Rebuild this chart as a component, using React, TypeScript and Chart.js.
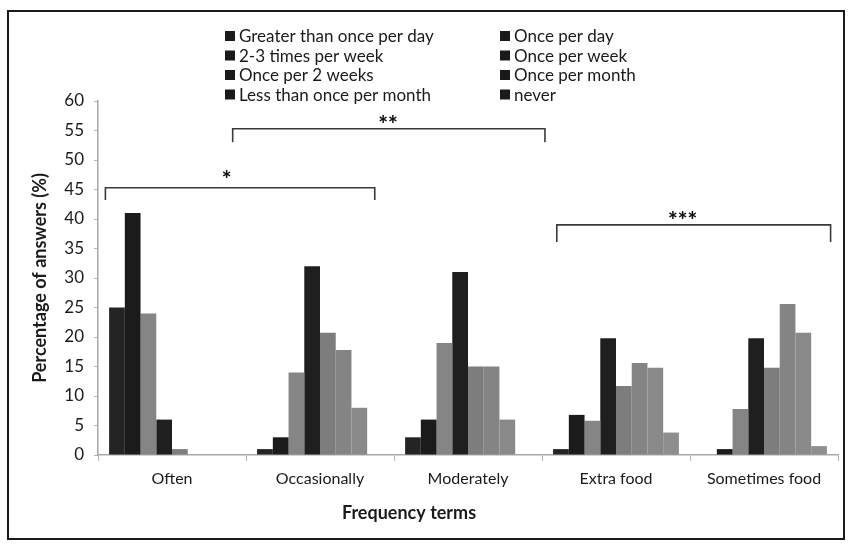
import React, { useEffect, useRef } from "react";
import { Chart, registerables } from "chart.js";

Chart.register(...registerables);

const categories = ["Often", "Occasionally", "Moderately", "Extra food", "Sometimes food"];

const seriesNames = [
  "Greater than once per day",
  "Once per day",
  "2-3 times per week",
  "Once per week",
  "Once per 2 weeks",
  "Once per month",
  "Less than once per month",
  "never",
];

const greaterThanOncePerDay = [25, 1, 3, 1, 0];
const oncePerDay = [41, 3, 6, 6.8, 1];
const twoThreeTimesPerWeek = [24, 14, 19, 5.8, 7.8];
const oncePerWeek = [6, 32, 31, 19.8, 19.8];
const oncePer2Weeks = [1, 20.7, 15, 11.7, 14.8];
const oncePerMonth = [0, 17.8, 15, 15.6, 25.6];
const lessThanOncePerMonth = [0, 8, 6, 14.8, 20.7];
const never = [0, 0, 0, 3.8, 1.5];

const seriesValues = [
  greaterThanOncePerDay,
  oncePerDay,
  twoThreeTimesPerWeek,
  oncePerWeek,
  oncePer2Weeks,
  oncePerMonth,
  lessThanOncePerMonth,
  never,
];

const seriesColors = ["#242424", "#1b1b1b", "#858585", "#1f1f1f", "#7d7d7d", "#848484", "#898989", "#8e8e8e"];

const yTicks = [0, 5, 10, 15, 20, 25, 30, 35, 40, 45, 50, 55, 60];

// significance brackets, in category units (0 = centre of first category) and data values
const bracketLabels = ["*", "**", "***"];
const bracketFrom = [-0.45, 0.41, 2.6];
const bracketTo = [1.37, 2.52, 4.45];
const bracketLevel = [45.3, 55.3, 39];
const bracketDrop = [43.2, 53, 36.1];
const bracketLabelAt = [0.37, 1.46, 3.45];
const bracketLabelRaise = [4, 0, 0];

const xTitle = "Frequency terms";
const yTitle = "Percentage of answers (%)";

const FONT = "Lato, 'Open Sans', sans-serif";

const legendPlugin = {
  id: "twoColumnLegend",
  afterDraw(chart: any) {
    const ctx = chart.ctx;
    ctx.save();
    ctx.font = `17px ${FONT}`;
    ctx.textBaseline = "middle";
    ctx.textAlign = "left";
    const colX = [225, 500];
    seriesNames.forEach((name, i) => {
      const col = i % 2;
      const row = Math.floor(i / 2);
      const cy = 36 + row * 19.5;
      ctx.fillStyle = "#1a1a1a";
      ctx.fillRect(colX[col], cy - 5, 10, 10);
      ctx.fillStyle = "#1a1a1a";
      ctx.fillText(name, colX[col] + 14, cy + 1);
    });
    // x-axis title (sits left of the plot centre in the original)
    ctx.font = `bold 18px ${FONT}`;
    ctx.textAlign = "center";
    ctx.fillText(xTitle, 409, 513);
    ctx.restore();
  },
};

const bracketPlugin = {
  id: "brackets",
  afterDatasetsDraw(chart: any) {
    const ctx = chart.ctx;
    const xs = chart.scales.x;
    const ys = chart.scales.y;
    const x0 = xs.getPixelForValue(0);
    const step = xs.getPixelForValue(1) - x0;
    const px = (u: number) => x0 + u * step;
    ctx.save();
    ctx.strokeStyle = "#3a3a3a";
    ctx.lineWidth = 1.6;
    bracketLabels.forEach((label, i) => {
      const yL = ys.getPixelForValue(bracketLevel[i]);
      const yD = ys.getPixelForValue(bracketDrop[i]);
      ctx.beginPath();
      ctx.moveTo(px(bracketFrom[i]), yD);
      ctx.lineTo(px(bracketFrom[i]), yL);
      ctx.lineTo(px(bracketTo[i]), yL);
      ctx.lineTo(px(bracketTo[i]), yD);
      ctx.stroke();
      ctx.fillStyle = "#111";
      ctx.font = `900 23px ${FONT}`;
      ctx.textAlign = "center";
      ctx.textBaseline = "alphabetic";
      ctx.fillText(label, px(bracketLabelAt[i]), yL + 3 - bracketLabelRaise[i]);
    });
    ctx.restore();
  },
};

export default function App() {
  const canvasRef = useRef<HTMLCanvasElement | null>(null);

  useEffect(() => {
    if (!canvasRef.current) return;
    const chart = new Chart(canvasRef.current, {
      type: "bar",
      data: {
        labels: categories,
        datasets: seriesNames.map((name, i) => ({
          label: name,
          data: seriesValues[i],
          backgroundColor: seriesColors[i],
          borderWidth: 0,
          barPercentage: 1.0,
          categoryPercentage: 0.85,
        })),
      },
      options: {
        responsive: false,
        animation: false,
        layout: { padding: { left: 25, top: 101, right: 11, bottom: 0 } },
        plugins: {
          legend: { display: false },
          tooltip: { enabled: false },
        },
        scales: {
          x: {
            offset: true,
            grid: {
              display: true,
              drawOnChartArea: false,
              drawTicks: true,
              tickLength: 6,
              color: "#b5b5b5",
              offset: true,
            },
            border: { display: true, color: "#a8a8a8", width: 1.5 },
            ticks: {
              color: "#1a1a1a",
              font: { family: FONT, size: 16 },
              padding: 8,
              maxRotation: 0,
              autoSkip: false,
            },
            title: { display: false },
            afterFit(scale: any) {
              scale.height = 89;
            },
          },
          y: {
            min: 0,
            max: 60,
            afterBuildTicks(scale: any) {
              scale.ticks = yTicks.map((v) => ({ value: v }));
            },
            grid: {
              display: true,
              drawOnChartArea: false,
              drawTicks: true,
              tickLength: 4,
              color: "#b5b5b5",
            },
            border: { display: true, color: "#a8a8a8", width: 1.5 },
            ticks: {
              color: "#1a1a1a",
              font: { family: FONT, size: 17 },
              padding: 10,
            },
            title: {
              display: true,
              text: yTitle,
              color: "#1a1a1a",
              font: { family: FONT, size: 18, weight: "bold" },
            },
            afterFit(scale: any) {
              scale.width = 73;
            },
          },
        },
      },
      plugins: [legendPlugin, bracketPlugin],
    });
    return () => chart.destroy();
  }, []);

  return (
    <div style={{ position: "absolute", left: 0, top: 0, width: 849, height: 544, background: "#fff" }}>
      <canvas ref={canvasRef} width={849} height={544} style={{ position: "absolute", left: 0, top: 0 }} />
      <div
        style={{
          position: "absolute",
          left: 7,
          top: 10,
          width: 838,
          height: 530,
          border: "2px solid #1a1a1a",
          boxSizing: "border-box",
          pointerEvents: "none",
        }}
      />
    </div>
  );
}
